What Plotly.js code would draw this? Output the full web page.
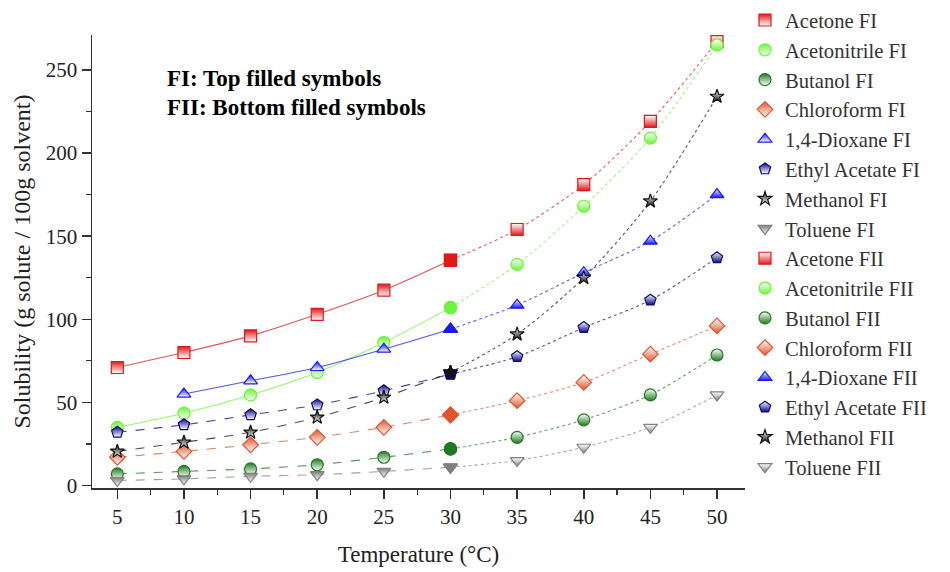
<!DOCTYPE html>
<html>
<head>
<meta charset="utf-8">
<script src="https://cdn.plot.ly/plotly-3.0.1.min.js"></script>
<style>html,body{margin:0;padding:0;background:#fff;}#chart{width:950px;height:572px;}</style>
</head>
<body>
<div id="chart"></div>
<script>
// ---- data ----
var tempsFI = [5, 10, 15, 20, 25, 30];
var tempsFII = [30, 35, 40, 45, 50];
var solvents = ["Acetone", "Acetonitrile", "Butanol", "Chloroform", "1,4-Dioxane", "Ethyl Acetate", "Methanol", "Toluene"];
var acetoneFI = [71, 80, 90, 103, 117.5, 135.5];
var acetoneFII = [135.5, 154, 181, 219, 267];
var acetonitrileFI = [35, 43.5, 54.5, 68, 86, 107];
var acetonitrileFII = [107, 133, 168, 209, 265];
var butanolFI = [7, 8.5, 10, 12.5, 17, 22];
var butanolFII = [22, 29, 39.5, 54.5, 78.5];
var chloroformFI = [17, 20.5, 24.5, 29, 35, 42.5];
var chloroformFII = [42.5, 51, 62, 79, 96];
var dioxaneFI = [null, 55, 63, 71, 82, 94];
var dioxaneFII = [94, 108.5, 128, 147, 175];
var ethylAcetateFI = [32, 36.5, 42.5, 48.5, 57, 67];
var ethylAcetateFII = [67, 77.5, 95, 111.5, 137];
var methanolFI = [20.5, 26, 32, 41, 53, 68];
var methanolFII = [68, 91, 125, 171, 234];
var tolueneFI = [3, 4, 5.5, 6.5, 8.5, 11];
var tolueneFII = [11, 15, 23, 35, 54.5];
var xTickVals = [5, 10, 15, 20, 25, 30, 35, 40, 45, 50];
var yTickVals = [0, 50, 100, 150, 200, 250];

var seriesFI = [acetoneFI, acetonitrileFI, butanolFI, chloroformFI, dioxaneFI, ethylAcetateFI, methanolFI, tolueneFI];
var seriesFII = [acetoneFII, acetonitrileFII, butanolFII, chloroformFII, dioxaneFII, ethylAcetateFII, methanolFII, tolueneFII];

// ---- styles ----
var colors = ["#e01818", "#6cf53a", "#1f7a1f", "#e0552e", "#1a1aff", "#0a0a80", "#111111", "#808080"];
var symbols = ["square", "circle", "circle", "diamond", "triangle-up", "pentagon", "star", "triangle-down"];
var sizes = [12, 12, 12, 12, 12, 12, 10.5, 12];
var fiDash = ["solid", "solid", "dash", "dash", "solid", "dash", "dash", "dash"];
var FONT = '"Liberation Serif", "Times New Roman", serif';

var lineTraces = [], fiTraces = [], fiiTraces = [], fullTraces = [];
solvents.forEach(function (name, i) {
  var c = colors[i];
  lineTraces.push({
    x: tempsFI, y: seriesFI[i], mode: "lines", showlegend: false, hoverinfo: "skip",
    line: {color: c, width: 1.1, dash: fiDash[i], shape: "spline", smoothing: 0.8}, opacity: 0.75
  });
  lineTraces.push({
    x: tempsFII, y: seriesFII[i], mode: "lines", showlegend: false, hoverinfo: "skip",
    line: {color: c, width: 1.1, dash: "dot", shape: "spline", smoothing: 0.8}, opacity: 0.7
  });
  fiTraces.push({
    x: tempsFI, y: seriesFI[i], mode: "markers", name: name + " FI",
    marker: {symbol: symbols[i], size: sizes[i], color: c, gradient: {type: "vertical", color: "#ffffff"},
             line: {color: c, width: 1.2}}
  });
  fiiTraces.push({
    x: tempsFII, y: seriesFII[i], mode: "markers", name: name + " FII",
    marker: {symbol: symbols[i], size: sizes[i], color: "#ffffff", gradient: {type: "vertical", color: c},
             line: {color: c, width: 1.2}}
  });
  fullTraces.push({
    x: [tempsFI[tempsFI.length - 1]], y: [seriesFI[i][seriesFI[i].length - 1]], mode: "markers",
    showlegend: false, hoverinfo: "skip",
    marker: {symbol: symbols[i], size: sizes[i], color: c, line: {color: c, width: 1.2}}
  });
});

var data = lineTraces.concat(fiTraces, fiiTraces, fullTraces);

var layout = {
  width: 950, height: 572,
  margin: {l: 92, r: 205, t: 35, b: 84, autoexpand: false},
  paper_bgcolor: "#ffffff", plot_bgcolor: "#ffffff",
  font: {family: FONT, size: 21, color: "#222"},
  showlegend: true,
  legend: {x: 1.0, xanchor: "left", y: 1.077, yanchor: "top", font: {family: FONT, size: 20.6, color: "#333"},
           bgcolor: "rgba(0,0,0,0)", itemwidth: 30, maxheight: 570},
  xaxis: {
    range: [3.1, 52.1], tickvals: xTickVals, showgrid: false, zeroline: false, automargin: false,
    showline: true, linecolor: "#333", linewidth: 1.5,
    ticks: "outside", ticklen: 9, tickwidth: 1.5, tickcolor: "#333",
    tickfont: {family: FONT, size: 21, color: "#222"},
    minor: {dtick: 2.5, tick0: 2.5, ticks: "outside", ticklen: 5, tickwidth: 1.2, tickcolor: "#333", showgrid: false},
    title: {text: "Temperature (°C)", font: {family: FONT, size: 23, color: "#222"}, standoff: 18}
  },
  yaxis: {
    range: [-1.5, 271], tickvals: yTickVals, showgrid: false, zeroline: false, automargin: false,
    showline: true, linecolor: "#333", linewidth: 1.5,
    ticks: "outside", ticklen: 9, tickwidth: 1.5, tickcolor: "#333",
    tickfont: {family: FONT, size: 21, color: "#222"},
    minor: {dtick: 25, tick0: 0, ticks: "outside", ticklen: 5, tickwidth: 1.2, tickcolor: "#333", showgrid: false},
    title: {text: "Solubility (g solute / 100g solvent)", font: {family: FONT, size: 24, color: "#222"}, standoff: 8}
  },
  annotations: [
    {xref: "paper", yref: "paper", x: 0.112, y: 0.905, xanchor: "left", yanchor: "middle", showarrow: false,
     text: "<b>FI: Top filled symbols</b>", font: {family: FONT, size: 23, color: "#000"}},
    {xref: "paper", yref: "paper", x: 0.112, y: 0.839, xanchor: "left", yanchor: "middle", showarrow: false,
     text: "<b>FII: Bottom filled symbols</b>", font: {family: FONT, size: 23, color: "#000"}}
  ]
};

Plotly.newPlot("chart", data, layout, {displayModeBar: false, staticPlot: true});
</script>
</body>
</html>
